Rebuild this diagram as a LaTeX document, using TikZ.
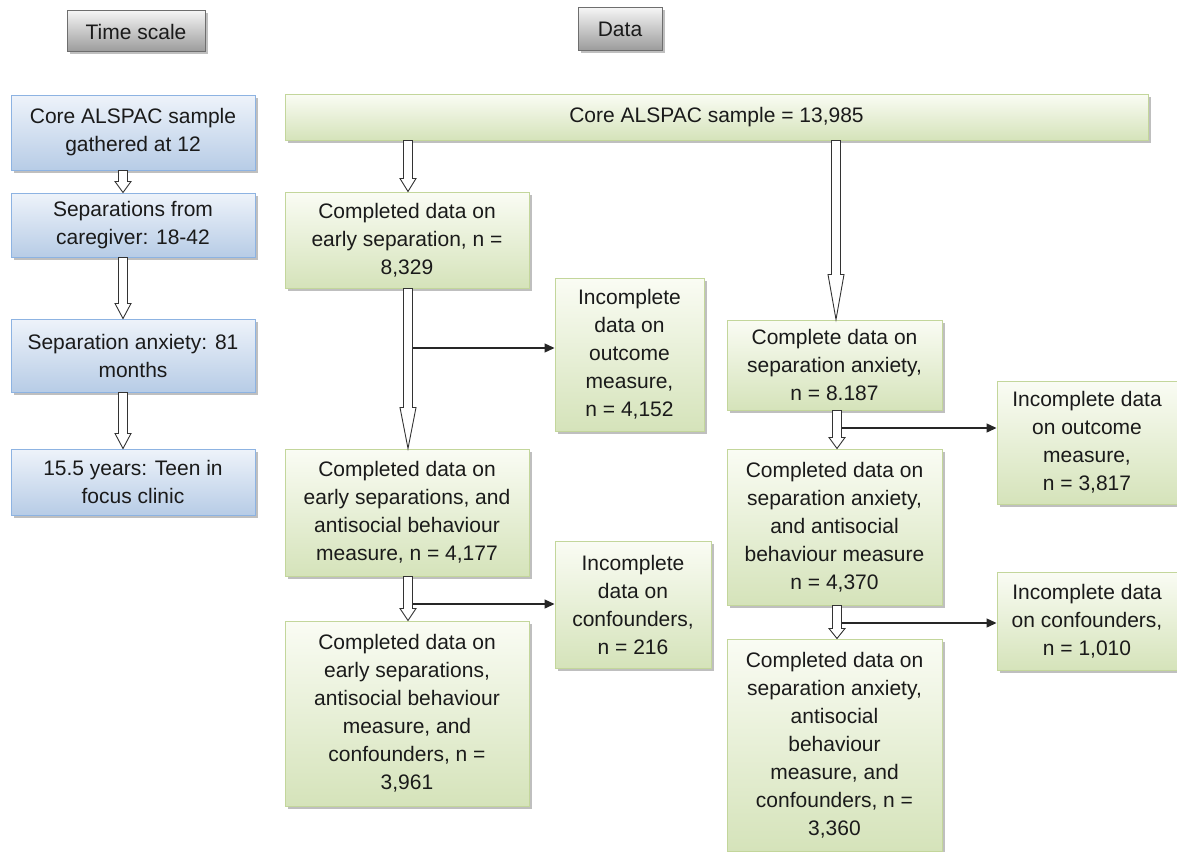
\documentclass[tikz,border=0pt]{standalone}
\usepackage{fontspec}
\setmainfont{Liberation Sans}
\usetikzlibrary{shadows,arrows.meta,calc}
\definecolor{bluetop}{HTML}{EEF3FA}
\definecolor{bluebot}{HTML}{B7CCE6}
\definecolor{blueedge}{HTML}{8DB3E2}
\definecolor{greentop}{HTML}{FAFCF4}
\definecolor{greenbot}{HTML}{D5E3BA}
\definecolor{greenedge}{HTML}{C3D69B}
\definecolor{graytop}{HTML}{F4F4F4}
\definecolor{graybot}{HTML}{9A9A9A}
\definecolor{grayedge}{HTML}{6E6E6E}
\definecolor{txt}{HTML}{1A1A1A}
\tikzset{
  basebox/.style={rectangle, inner sep=0pt, align=center, text=txt, line width=1pt,
    drop shadow={shadow xshift=2.5pt, shadow yshift=-2.5pt, fill=black!45, opacity=0.55}},
  bluebox/.style={basebox, draw=blueedge, top color=bluetop, bottom color=bluebot},
  greenbox/.style={basebox, draw=greenedge, top color=greentop, bottom color=greenbot},
  headbox/.style={basebox, draw=grayedge, top color=graytop, bottom color=graybot},
  blockarr/.style={draw=black!80, fill=white, line width=0.9pt, line join=miter},
  thinarr/.style={draw=black!85, line width=1.3pt, -{Triangle[length=10pt,width=9pt]}}
}
% #1 style, #2 name, #3 x1, #4 y1, #5 x2, #6 y2, #7 text
\newcommand\bx[7]{\node[#1, minimum width={#5pt-#3pt}, minimum height={#6pt-#4pt}] (#2) at ({(#3+#5)/2},{(#4+#6)/2}) {#7};}
% #1 from node, #2 to node, #3 x, #4 head length
\newcommand\blockarrow[4]{\draw[blockarr] let \p1=(#1.south), \p2=(#2.north) in
  (#3pt-4.5pt,\y1) -- (#3pt+4.5pt,\y1) -- (#3pt+4.5pt,\y2+#4pt) -- (#3pt+8pt,\y2+#4pt)
  -- (#3pt,\y2) -- (#3pt-8pt,\y2+#4pt) -- (#3pt-4.5pt,\y2+#4pt) -- cycle;}
\begin{document}
\begin{tikzpicture}[x=1pt,y=-1pt,font=\fontsize{21}{28}\selectfont]
\useasboundingbox[fill=white] (0,0) rectangle (1177,851);
% headers
\bx{headbox}{ts}{67}{11}{205}{52}{Time scale}
\bx{headbox}{dt}{578}{8}{662}{51}{Data}
% time scale column
\bx{bluebox}{t1}{11}{95}{255}{170}{Core ALSPAC sample\\gathered at 12}
\bx{bluebox}{t2}{11}{193}{255}{257}{Separations from\\caregiver: 18-42}
\bx{bluebox}{t3}{11}{319}{255}{392}{Separation anxiety: 81\\months}
\bx{bluebox}{t4}{11}{449}{255}{515}{15.5 years: Teen in\\focus clinic}
% data
\bx{greenbox}{top}{285}{94}{1148}{140}{Core ALSPAC sample = 13,985}
\bx{greenbox}{a}{285}{192}{529}{288}{Completed data on\\early separation, n =\\8,329}
\bx{greenbox}{b}{285}{449}{529}{576}{Completed data on\\early separations, and\\antisocial behaviour\\measure, n = 4,177}
\bx{greenbox}{c}{285}{621}{529}{806}{Completed data on\\early separations,\\antisocial behaviour\\measure, and\\confounders, n =\\3,961}
\bx{greenbox}{i1}{555}{278}{704}{431}{Incomplete\\data on\\outcome\\measure,\\n = 4,152}
\bx{greenbox}{i2}{555}{541}{711}{668}{Incomplete\\data on\\confounders,\\n = 216}
\bx{greenbox}{d}{727}{320}{942}{410}{Complete data on\\separation anxiety,\\n = 8.187}
\bx{greenbox}{e}{727}{449}{942}{605}{Completed data on\\separation anxiety,\\and antisocial\\behaviour measure\\n = 4,370}
\bx{greenbox}{f}{727}{639}{942}{851}{Completed data on\\separation anxiety,\\antisocial\\behaviour\\measure, and\\confounders, n =\\3,360}
\bx{greenbox}{i3}{997}{381}{1177}{504}{Incomplete data\\on outcome\\measure,\\n = 3,817}
\bx{greenbox}{i4}{997}{572}{1177}{670}{Incomplete data\\on confounders,\\n = 1,010}
% block arrows
\blockarrow{t1}{t2}{123}{11}
\blockarrow{t2}{t3}{123}{15}
\blockarrow{t3}{t4}{123}{15}
\blockarrow{top}{a}{408}{13}
\blockarrow{a}{b}{408}{41}
\blockarrow{b}{c}{408}{12}
\blockarrow{top}{d}{836}{45}
\blockarrow{d}{e}{837}{11}
\blockarrow{e}{f}{837}{10}
% thin arrows
\coordinate (s1) at (413,348);
\coordinate (s2) at (413,604);
\coordinate (s3) at (842,428);
\coordinate (s4) at (842,623);
\draw[thinarr] (s1) -- (s1 -| i1.west);
\draw[thinarr] (s2) -- (s2 -| i2.west);
\draw[thinarr] (s3) -- (s3 -| i3.west);
\draw[thinarr] (s4) -- (s4 -| i4.west);
\end{tikzpicture}
\end{document}
